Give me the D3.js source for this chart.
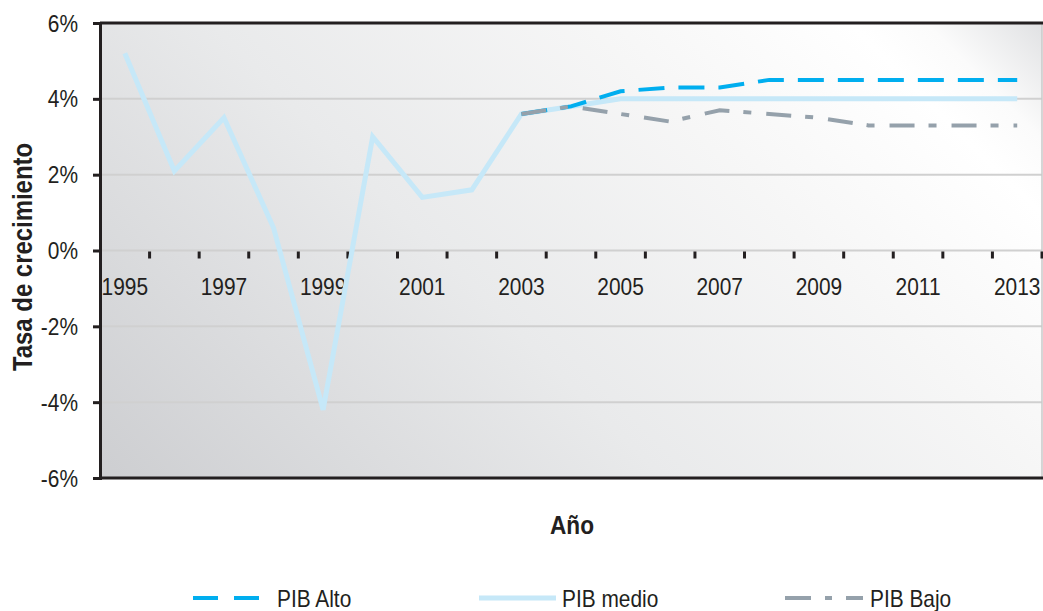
<!DOCTYPE html>
<html><head><meta charset="utf-8">
<script src="https://cdn.jsdelivr.net/npm/d3@7"></script>
<style>
html,body{margin:0;padding:0;background:#fff;}
svg text{font-family:"Liberation Sans",Arial,sans-serif;fill:#231f20;}
</style></head>
<body>
<svg id="chart" width="1043" height="611"></svg>
<script>
const years = [1995,1996,1997,1998,1999,2000,2001,2002,2003,2004,2005,2006,2007,2008,2009,2010,2011,2012,2013];
const pibMedio = [5.2,2.1,3.5,0.6,-4.2,3.0,1.4,1.6,3.6,3.8,4.0,4.0,4.0,4.0,4.0,4.0,4.0,4.0,4.0];
const pibAlto  = [null,null,null,null,null,null,null,null,3.6,3.8,4.2,4.3,4.3,4.5,4.5,4.5,4.5,4.5,4.5];
const pibBajo  = [null,null,null,null,null,null,null,null,3.6,3.8,3.6,3.4,3.7,3.6,3.5,3.3,3.3,3.3,3.3];
const yTicks = [-6,-4,-2,0,2,4,6];
const yearLabels = [1995,1997,1999,2001,2003,2005,2007,2009,2011,2013];
const seriesNames = ["PIB Alto","PIB medio","PIB Bajo"];

const svg = d3.select("#chart");
const X0 = 100, X1 = 1042, Y0 = 23, Y1 = 478;
const SX = 0.87;
const x = d3.scaleBand().domain(years).range([X0, X1]).padding(0);
const y = d3.scaleLinear().domain([-6, 6]).range([Y1, Y0]);
const cx = d => x(d) + x.bandwidth()/2;

function ntext(parent, px, py, txt, size, anchor, bold, rot) {
  return parent.append("text")
    .attr("transform", `translate(${px},${py})` + (rot ? ` rotate(${rot})` : "") + ` scale(${SX},1)`)
    .attr("font-size", size).attr("text-anchor", anchor || "start")
    .attr("font-weight", bold ? "bold" : "normal").text(txt);
}

// background gradient
const defs = svg.append("defs");
const g = defs.append("linearGradient").attr("id","bg").attr("gradientUnits","userSpaceOnUse")
  .attr("x1",X0).attr("y1",Y1).attr("x2",X1).attr("y2",Y1-(X1-X0));
[[0,"#cdced1"],[0.3,"#e9eaeb"],[0.5,"#f6f6f6"],[0.64,"#ffffff"],[0.68,"#fbfbfb"],[0.745,"#dfe0e2"]]
  .forEach(([o,c]) => g.append("stop").attr("offset",o).attr("stop-color",c));
svg.append("rect").attr("x",X0).attr("y",Y0).attr("width",X1-X0).attr("height",Y1-Y0).attr("fill","url(#bg)");

// gridlines
svg.append("g").selectAll("line").data(yTicks.filter(t => t!==6 && t!==-6)).join("line")
  .attr("x1",X0).attr("x2",X1).attr("y1",d=>y(d)).attr("y2",d=>y(d))
  .attr("stroke","#d0d0d0").attr("stroke-width",2);
// right border
svg.append("line").attr("x1",X1).attr("x2",X1).attr("y1",Y0).attr("y2",Y1).attr("stroke","#c8c8c8").attr("stroke-width",1.5);
// top & bottom borders
svg.append("line").attr("x1",X0).attr("x2",1043).attr("y1",Y0).attr("y2",Y0).attr("stroke","#231f20").attr("stroke-width",3);
svg.append("line").attr("x1",X0).attr("x2",1043).attr("y1",Y1).attr("y2",Y1).attr("stroke","#231f20").attr("stroke-width",3);

// y axis
const yAxis = d3.axisLeft(y).tickValues(yTicks).tickSize(7).tickFormat("");
const ya = svg.append("g").attr("transform",`translate(${X0},0)`).call(yAxis);
ya.select(".domain").attr("stroke","#231f20").attr("stroke-width",3);
ya.selectAll(".tick line").attr("stroke","#231f20").attr("stroke-width",3);
const yl = svg.append("g");
yTicks.forEach(t => ntext(yl, 78, y(t) + 8.5, t + "%", 24, "end"));

// x axis ticks (category boundaries) on zero line
const xa = svg.append("g");
xa.selectAll("line").data(years).join("line")
  .attr("x1",d=>x(d)+x.bandwidth()).attr("x2",d=>x(d)+x.bandwidth())
  .attr("y1",y(0)+1).attr("y2",y(0)+8).attr("stroke","#231f20").attr("stroke-width",3);
yearLabels.forEach(yr => ntext(xa, cx(yr), y(0) + 44, yr, 24, "middle"));

// lines
const line = d3.line().defined(d => d.v !== null).x(d => cx(d.year)).y(d => y(d.v));
const toPts = arr => years.map((yr,i)=>({year:yr, v:arr[i]}));
svg.append("path").datum(toPts(pibMedio)).attr("d",line).attr("fill","none")
  .attr("stroke","#c6e8f8").attr("stroke-width",5).attr("stroke-linejoin","miter");
svg.append("path").datum(toPts(pibAlto)).attr("d",line).attr("fill","none")
  .attr("stroke","#00aeef").attr("stroke-width",4).attr("stroke-dasharray","26,14");
svg.append("path").datum(toPts(pibBajo)).attr("d",line).attr("fill","none")
  .attr("stroke","#95a1ab").attr("stroke-width",4).attr("stroke-dasharray","25,14,8,15");

// axis titles
ntext(svg, 32, 257, "Tasa de crecimiento", 27.5, "middle", true, -90);
ntext(svg, 572, 534, "Año", 26, "middle", true);

// legend
const leg = [
  {name:seriesNames[0], x1:193, x2:260, tx:277, color:"#00aeef", w:4, dash:"25,16"},
  {name:seriesNames[1], x1:479, x2:556, tx:562, color:"#c6e8f8", w:5, dash:null},
  {name:seriesNames[2], x1:785, x2:863, tx:870, color:"#95a1ab", w:4, dash:"26,14,7,14"}
];
const lg = svg.append("g");
leg.forEach(l => {
  lg.append("line").attr("x1",l.x1).attr("x2",l.x2).attr("y1",598).attr("y2",598)
    .attr("stroke",l.color).attr("stroke-width",l.w).attr("stroke-dasharray",l.dash);
  ntext(lg, l.tx, 607, l.name, 24, "start");
});
</script>
</body></html>
